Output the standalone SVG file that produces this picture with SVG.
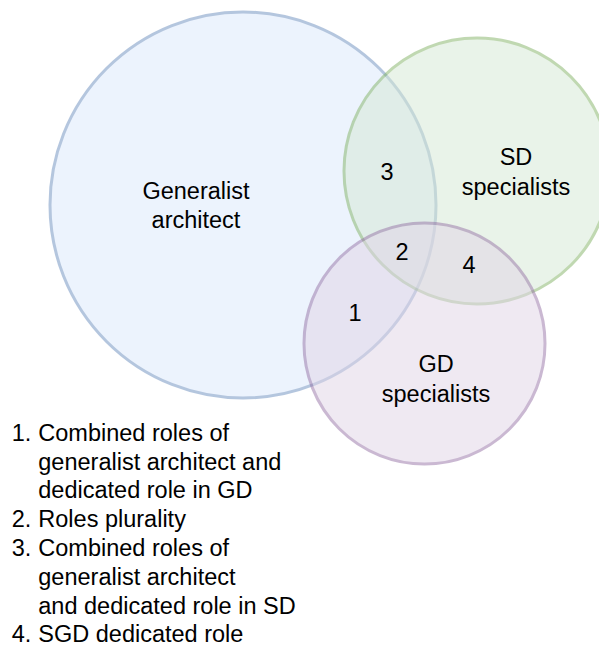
<svg xmlns="http://www.w3.org/2000/svg" width="599" height="646" viewBox="0 0 599 646">
<style>
text{font-family:"Liberation Sans",Arial,Helvetica,sans-serif;font-size:23.5px;fill:#000}
.c{text-anchor:middle}
.circ{stroke-width:3;opacity:0.5}
</style>
<rect width="599" height="646" fill="#ffffff"/>
<g id="generalist">
<circle class="circ" cx="243" cy="205" r="193" fill="#dae8fc" stroke="#6c8ebf"/>
<text class="c" x="196" y="199">Generalist</text>
<text class="c" x="196" y="228">architect</text>
</g>
<g id="sd">
<circle class="circ" cx="477" cy="171" r="133" fill="#d5e8d4" stroke="#82b366"/>
<text class="c" x="516" y="165">SD</text>
<text class="c" x="516" y="195">specialists</text>
</g>
<g id="gd">
<circle class="circ" cx="424.5" cy="343.5" r="120.5" fill="#e1d5e7" stroke="#9673a6"/>
<text class="c" x="436" y="372">GD</text>
<text class="c" x="436" y="402">specialists</text>
</g>
<g id="regions">
<text class="c" x="355" y="321">1</text>
<text class="c" x="402" y="260">2</text>
<text class="c" x="387" y="180">3</text>
<text class="c" x="469" y="273">4</text>
</g>
<g id="connectors"></g>
<g id="legend">
<text x="11.7" y="440.7">1.</text>
<text x="38.3" y="440.7">Combined roles of</text>
<text x="38.3" y="469.5">generalist architect and</text>
<text x="38.3" y="498.3">dedicated role in GD</text>
<text x="11.7" y="527.1">2.</text>
<text x="38.3" y="527.1">Roles plurality</text>
<text x="11.7" y="555.9">3.</text>
<text x="38.3" y="555.9">Combined roles of</text>
<text x="38.3" y="584.7">generalist architect</text>
<text x="38.3" y="613.5">and dedicated role in SD</text>
<text x="11.7" y="642.3">4.</text>
<text x="38.3" y="642.3">SGD dedicated role</text>
</g>
</svg>
